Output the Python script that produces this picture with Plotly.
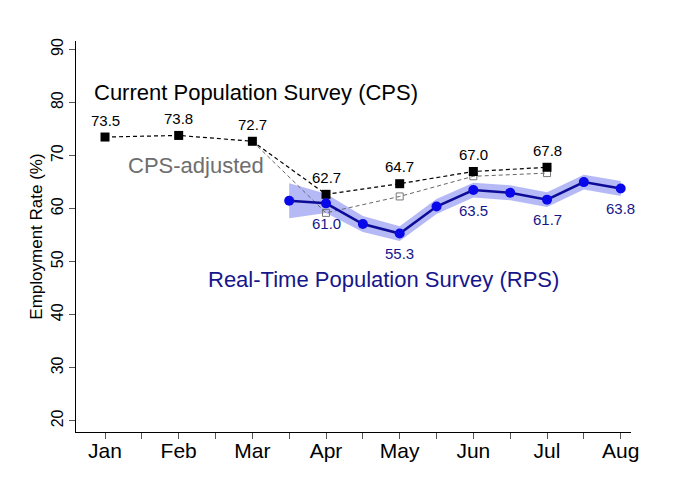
import plotly.graph_objects as go

# month positions 1..8 = Jan..Aug
months = ["Jan", "Feb", "Mar", "Apr", "May", "Jun", "Jul", "Aug"]
month_x = [1, 2, 3, 4, 5, 6, 7, 8]

# Current Population Survey
cps_x = [1, 2, 3, 4, 5, 6, 7]
cps = [73.5, 73.8, 72.7, 62.7, 64.7, 67.0, 67.8]

# CPS-adjusted (branches off at Mar)
adj_x = [3, 4, 5, 6, 7]
cps_adj = [72.7, 59.2, 62.3, 66.1, 66.7]

# Real-Time Population Survey, half-month waves
rps_x = [3.5, 4, 4.5, 5, 5.5, 6, 6.5, 7, 7.5, 8]
rps = [61.5, 61.0, 57.1, 55.3, 60.4, 63.5, 63.0, 61.7, 65.0, 63.8]
rps_lo = [58.2, 59.2, 55.6, 53.9, 59.0, 62.1, 61.6, 60.3, 63.6, 62.4]
rps_hi = [64.8, 62.8, 58.6, 56.7, 61.8, 64.9, 64.4, 63.1, 66.4, 65.2]
rps_labeled = [4, 5, 6, 7, 8]

FONT = "Liberation Sans, Arial, sans-serif"
NAVY = "#16168c"

fig = go.Figure()

# confidence band
fig.add_trace(go.Scatter(
    x=rps_x + rps_x[::-1], y=rps_hi + rps_lo[::-1],
    fill="toself", fillcolor="rgba(90,100,235,0.45)",
    line=dict(width=0), mode="lines", hoverinfo="skip", showlegend=False))

fig.add_trace(go.Scatter(
    x=adj_x, y=cps_adj, mode="lines+markers",
    line=dict(color="#666666", width=1, dash="4px,3px"),
    marker=dict(symbol="square-open", size=7, color="#777777",
                line=dict(width=1)),
    showlegend=False))

fig.add_trace(go.Scatter(
    x=cps_x, y=cps, mode="lines+markers",
    line=dict(color="black", width=1.2, dash="4px,3px"),
    marker=dict(symbol="square", size=9, color="black"),
    showlegend=False))

fig.add_trace(go.Scatter(
    x=rps_x, y=rps, mode="lines+markers",
    line=dict(color="#0c0c96", width=2.5),
    marker=dict(symbol="circle", size=10, color="#0808e8"),
    showlegend=False))

annotations = []
for x, v in zip(cps_x, cps):
    annotations.append(dict(x=x, y=v, text=f"{v:.1f}", showarrow=False,
                            yshift=17, font=dict(size=15, color="black")))
for x, v in zip(rps_x, rps):
    if x in rps_labeled:
        annotations.append(dict(x=x, y=v, text=f"{v:.1f}", showarrow=False,
                                yshift=-20, font=dict(size=15, color=NAVY)))

annotations += [
    dict(x=0.823, y=81.8, xanchor="left", text="Current Population Survey (CPS)",
         showarrow=False, font=dict(size=22, color="black")),
    dict(x=2.23, y=68.1, text="CPS-adjusted",
         showarrow=False, font=dict(size=22, color="#6e6e6e")),
    dict(x=2.373, y=46.6, xanchor="left", text="Real-Time Population Survey (RPS)",
         showarrow=False, font=dict(size=22, color=NAVY)),
]

# page body adds ~8px offset, so margins are shifted up/left
fig.update_layout(
    width=699, height=477,
    margin=dict(l=68, r=76, t=33, b=53),
    plot_bgcolor="white", paper_bgcolor="white",
    font=dict(family=FONT, color="black"),
    annotations=annotations,
    xaxis=dict(range=[0.606, 8.14], tickmode="array", tickvals=month_x,
               ticktext=months, ticks="outside", ticklen=6, tickcolor="#555",
               tickfont=dict(size=21), ticklabelstandoff=-6,
               showgrid=False, zeroline=False,
               showline=True, linecolor="black", linewidth=1,
               minor=dict(tickmode="linear", tick0=0.5, dtick=1, ticks="outside",
                          ticklen=6, tickcolor="#555")),
    yaxis=dict(range=[17.9, 91.6], tickmode="array",
               tickvals=[20, 30, 40, 50, 60, 70, 80, 90],
               ticks="outside", ticklen=6, tickcolor="#555", tickangle=-90,
               tickfont=dict(size=16), showgrid=False, zeroline=False,
               showline=True, linecolor="black", linewidth=1,
               title=dict(text="Employment Rate (%)", font=dict(size=17),
                          standoff=1)),
)

fig.write_html("out.html")
